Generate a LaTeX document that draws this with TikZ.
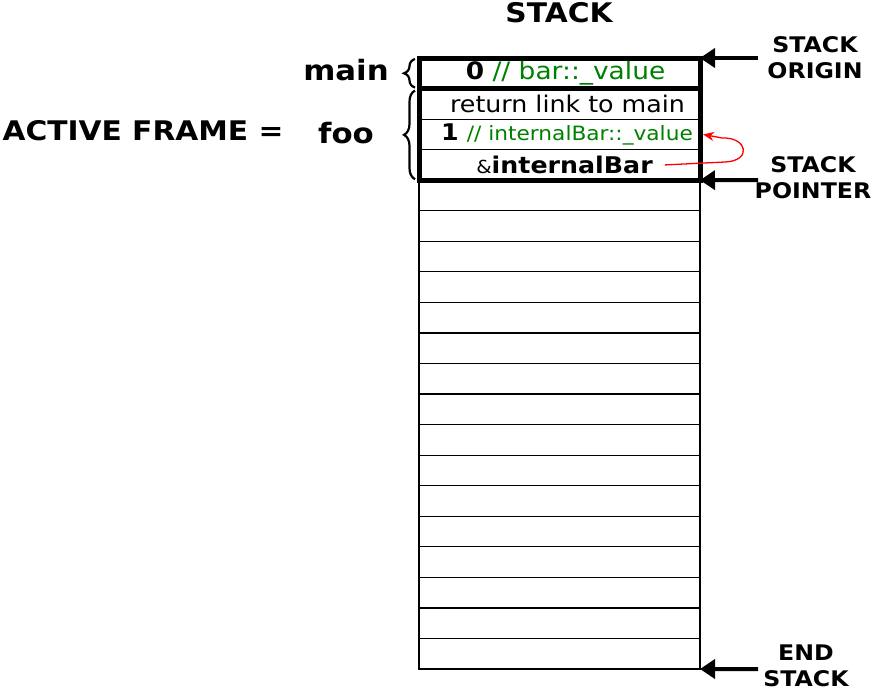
\documentclass[tikz,border=0pt]{standalone}
\usepackage{fontspec}
\setmainfont[FakeStretch=1.1]{DejaVu Sans}
\usetikzlibrary{arrows.meta,decorations.pathreplacing}
\definecolor{codegreen}{RGB}{0,128,0}
\begin{document}
\begin{tikzpicture}[x=1pt,y=-1pt,
  cell/.style={draw,line width=1.2pt,minimum width=281pt,minimum height=30.55pt,inner sep=0pt,outer sep=0pt,anchor=north west},
  frame/.style={line width=5pt},
  bigarrow/.style={line width=4pt,-{Triangle[length=15pt,width=19pt]}},
  lbl/.style={font=\fontsize{21.5}{26}\selectfont\bfseries,align=center,inner sep=0pt},
  celltext/.style={font=\fontsize{23}{26}\selectfont,inner sep=0pt},
  big/.style={font=\fontsize{28}{30}\selectfont\bfseries,inner sep=0pt},
  brc/.style={decorate,decoration={brace,amplitude=11pt,mirror},line width=2.2pt}
]
\useasboundingbox (0,0) rectangle (871,691);
\foreach \i in {1,...,20}
  \node[cell] (r\i) at (419,{58+(\i-1)*30.55}) {};
\draw[frame] (r1.north west) rectangle (r1.south east);
\draw[frame] (r2.north west) rectangle (r4.south east);

\node[celltext,font=\fontsize{24}{26}\selectfont] (t1) at ([xshift=6pt]r1.center) {\textbf{0} \textcolor{codegreen}{// bar::\_value}};
\node[celltext] (t2) at ([xshift=8pt]r2.center) {return link to main};
\node[celltext] (t3) at ([xshift=7.5pt]r3.center) {\textbf{1} \textcolor{codegreen}{\fontsize{19.7}{22}\selectfont // internalBar::\_value}};
\node[celltext] (t4) at ([xshift=5pt]r4.center) {{\fontsize{18}{20}\selectfont\&}\textbf{internalBar}};

\node[font=\fontsize{27}{29}\selectfont\bfseries,inner sep=0pt] (hdr) at (559,13) {STACK};

\coordinate (o) at (758,58);
\coordinate (p) at (758,180);
\coordinate (e) at (758,669);
\draw[bigarrow] (o) -- (r1.north east);
\draw[bigarrow] (p) -- (r4.south east);
\draw[bigarrow] (e) -- (r20.south east);

\node[lbl] (lo) at (815,58) {STACK\\ORIGIN};
\node[lbl] (lp) at (813,178) {STACK\\POINTER};
\node[lbl] (le) at (806,666) {END\\STACK};

\draw[brc] ([xshift=-4pt,yshift=-1pt]r1.north west) -- ([xshift=-4pt,yshift=1pt]r1.south west);
\draw[brc] ([xshift=-4pt,yshift=-2pt]r2.north west) -- ([xshift=-4pt,yshift=1pt]r4.south west);

\node[big] (mn) at (346,70) {main};
\node[big] (fo) at (346,133) {foo};
\node[big,font=\fontsize{27}{29}\selectfont\bfseries] (af) at (143,131) {ACTIVE FRAME =};

\draw[red,line width=1.3pt,-{Stealth[length=11pt,width=9pt]}] ([xshift=12pt]t4.east) -- (725,162) .. controls (752,161) and (748,137) .. (722,138) -- ([xshift=3pt]r3.east);
\end{tikzpicture}
\end{document}
